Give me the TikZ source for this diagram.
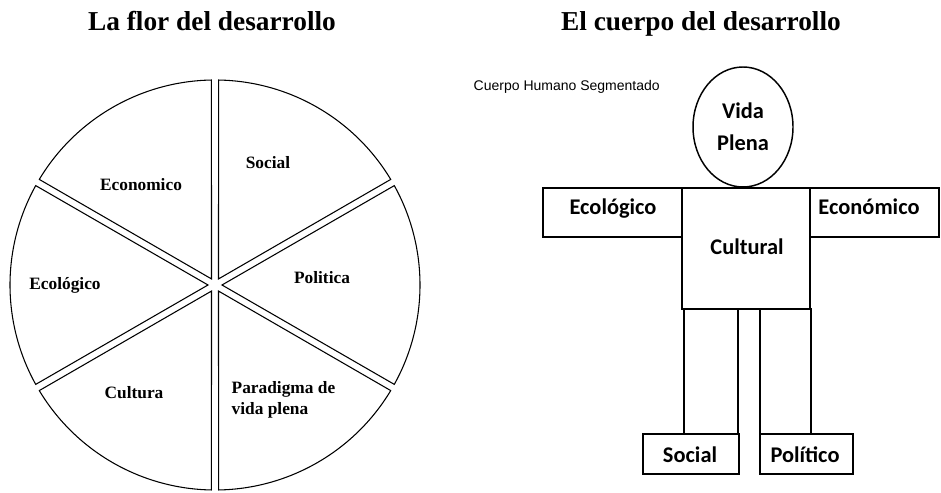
\documentclass[tikz,border=0pt]{standalone}
\usepackage{fontspec}
\usepackage{tikz}
\usetikzlibrary{calc}
\setmainfont{Liberation Serif}
\newfontfamily\partfont{Carlito}
\newfontfamily\notefont{Liberation Sans}

\tikzset{
  heading/.style={font=\fontsize{20.5}{22}\selectfont\bfseries, anchor=base},
  petal/.style={line width=0.8pt},
  petallabel/.style={font=\fontsize{13}{15.8}\selectfont\bfseries, align=left, anchor=base},
  part/.style={line width=1.1pt},
  partlabel/.style={font=\partfont\fontsize{16.8}{24}\selectfont\bfseries, align=center, anchor=base}
}

\begin{document}
\begin{tikzpicture}[x=0.75pt,y=0.75pt]
\useasboundingbox (0,0) rectangle (941,492);

%titles
\node[heading] (flortitle) at (212,461) {La flor del desarrollo};
\node[heading] (cuerpotitle) at (701,461) {El cuerpo del desarrollo};


%Drawing flower
\coordinate (c) at (215,207);
\foreach \a in {-150,-90,-30,30,90,150}
  \draw[petal] ($(c)+(\a+30:7)$) -- ($(c)+(\a+1:205)$)
    arc[start angle=\a+1, end angle=\a+59, radius=205] -- cycle;

\node[petallabel] (social) at (268,323) {Social};
\node[petallabel] (economico) at (141,301) {Economico};
\node[petallabel] (politica) at (322,208) {Politica};
\node[petallabel] (ecologico) at (65,202) {Ecológico};
\node[petallabel] (cultura) at (134,93) {Cultura};
\node[petallabel, anchor=west] (paradigma) at (227,92) {Paradigma de\\vida plena};


%Drawing body
\node[anchor=west, font=\notefont\fontsize{10.5}{12}\selectfont] (nota) at (469,405) {Cuerpo Humano Segmentado};

\draw[part] (743,365) ellipse[x radius=50, y radius=60];
\draw[part] (543,304) rectangle (682,255);
\draw[part] (682,304) rectangle (810,183);
\draw[part] (810,304) rectangle (939,255);
\draw[part] (684,183) rectangle (738,58);
\draw[part] (760,183) rectangle (811,58);
\draw[part] (643,58) rectangle (739,18);
\draw[part] (760,58) rectangle (853,18);

\node[partlabel, anchor=center] (vida) at (743,365) {Vida\\Plena};
\node[partlabel] (ecol) at (613,277) {Ecológico};
\node[partlabel] (econ) at (869,277) {Económico};
\node[partlabel] (cultural) at (747,237) {Cultural};
\node[partlabel] (social2) at (690,30) {Social};
\node[partlabel] (politico) at (805,30) {Político};

\end{tikzpicture}
\end{document}
